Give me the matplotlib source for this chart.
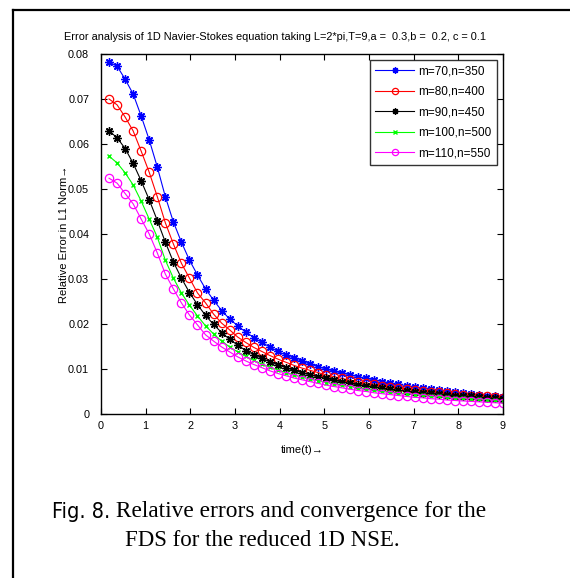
import numpy as np
import matplotlib
matplotlib.use("Agg")
import matplotlib.pyplot as plt
from matplotlib.lines import Line2D

# time levels at which the error was sampled
t = [0.18, 0.36, 0.54, 0.72, 0.90, 1.08, 1.26, 1.44, 1.62, 1.80,
     1.98, 2.16, 2.34, 2.52, 2.70, 2.88, 3.06, 3.24, 3.42, 3.60,
     3.78, 3.96, 4.14, 4.32, 4.50, 4.68, 4.86, 5.04, 5.22, 5.40,
     5.58, 5.76, 5.94, 6.12, 6.30, 6.48, 6.66, 6.84, 7.02, 7.20,
     7.38, 7.56, 7.74, 7.92, 8.10, 8.28, 8.46, 8.64, 8.82, 9.00]

err_70 = [.0782, .0773, .0744, .0711, .0662, .0609, .0549, .0483, .0427, .0382,
          .0342, .0309, .0278, .0253, .0230, .0211, .0196, .0182, .0170, .0159,
          .0149, .0139, .0131, .0124, .0117, .0111, .0105, .0100, .0095, .0091,
          .0087, .0083, .0079, .0076, .0072, .0069, .0066, .0063, .0060, .0058,
          .0056, .0053, .0051, .0049, .0047, .0045, .0043, .0041, .0040, .0038]
err_80 = [.0700, .0687, .0660, .0629, .0584, .0537, .0483, .0425, .0378, .0335,
          .0302, .0269, .0247, .0222, .0202, .0187, .0171, .0159, .0148, .0139,
          .0130, .0122, .0115, .0108, .0102, .0097, .0092, .0087, .0083, .0079,
          .0075, .0072, .0069, .0066, .0063, .0060, .0058, .0056, .0054, .0052,
          .0050, .0048, .0046, .0045, .0043, .0041, .0040, .0039, .0037, .0036]
err_90 = [.0629, .0614, .0590, .0557, .0518, .0476, .0430, .0382, .0338, .0302,
          .0270, .0243, .0219, .0199, .0181, .0166, .0153, .0141, .0132, .0124,
          .0116, .0109, .0103, .0097, .0092, .0087, .0083, .0079, .0075, .0071,
          .0068, .0065, .0062, .0060, .0057, .0055, .0053, .0051, .0049, .0047,
          .0046, .0044, .0043, .0041, .0040, .0039, .0037, .0036, .0035, .0034]
err_100 = [.0573, .0558, .0536, .0509, .0473, .0433, .0393, .0342, .0302, .0269,
           .0242, .0218, .0196, .0178, .0162, .0149, .0138, .0128, .0119, .0111,
           .0104, .0098, .0092, .0087, .0082, .0078, .0074, .0070, .0067, .0064,
           .0061, .0058, .0056, .0053, .0051, .0049, .0047, .0045, .0043, .0042,
           .0040, .0039, .0037, .0036, .0035, .0034, .0033, .0032, .0031, .0030]
err_110 = [.0524, .0513, .0490, .0467, .0433, .0400, .0358, .0311, .0278, .0247,
           .0220, .0198, .0176, .0162, .0149, .0138, .0127, .0118, .0110, .0103,
           .0096, .0090, .0085, .0080, .0076, .0072, .0068, .0064, .0061, .0058,
           .0055, .0052, .0050, .0047, .0045, .0043, .0041, .0039, .0037, .0036,
           .0034, .0033, .0031, .0030, .0029, .0028, .0027, .0026, .0025, .0024]

labels = ["m=70,n=350", "m=80,n=400", "m=90,n=450", "m=100,n=500", "m=110,n=550"]
x_ticks = [0, 1, 2, 3, 4, 5, 6, 7, 8, 9]
y_ticks = [0, 0.01, 0.02, 0.03, 0.04, 0.05, 0.06, 0.07, 0.08]
y_ticklabels = ["0", "0.01", "0.02", "0.03", "0.04", "0.05", "0.06", "0.07", "0.08"]

plt.rcParams["font.family"] = ["Liberation Sans", "DejaVu Sans"]

fig = plt.figure(figsize=(5.70, 5.78), dpi=100)
ax = fig.add_axes([101 / 570, 1 - 414 / 578, 402 / 570, 360 / 578])

star = (8, 2, 0)
ax.plot(t, err_70, color="blue", marker=star, markersize=6, linewidth=0.8, label=labels[0])
ax.plot(t, err_80, color="red", marker="o", markerfacecolor="none", markersize=6,
        markeredgewidth=0.9, linewidth=0.8, label=labels[1])
ax.plot(t, err_90, color="black", marker=star, markersize=6, linewidth=0.8, label=labels[2])
ax.plot(t, err_100, color="#00ff00", marker="x", markersize=3.5, linewidth=0.8, label=labels[3])
ax.plot(t, err_110, color="magenta", marker="o", markerfacecolor="none", markersize=6,
        markeredgewidth=0.9, linewidth=0.8, label=labels[4])

ax.set_xlim(0, 9)
ax.set_ylim(0, 0.08)
ax.set_xticks(x_ticks)
ax.set_yticks(y_ticks)
ax.set_yticklabels(y_ticklabels)
ax.tick_params(direction="in", top=True, right=True, length=4, width=0.8, labelsize=7.8)
ax.tick_params(axis="x", pad=5)
ax.tick_params(axis="y", pad=8.5)
for sp in ax.spines.values():
    sp.set_linewidth(1.0)

# title sits a little left of the axes centre
fig.text(275 / 570, 1 - 37 / 578,
         "Error analysis of 1D Navier-Stokes equation taking L=2*pi,T=9,a =  0.3,b =  0.2, c = 0.1",
         fontsize=7.9, ha="center", va="center")
ax.set_xlabel("time(t)\u2192", fontsize=8, labelpad=10)
ax.set_ylabel("Relative Error in L1 Norm\u2192", fontsize=8, labelpad=-1)

leg = ax.legend(loc="upper right", fontsize=8.5, frameon=True, fancybox=False,
                edgecolor="black", handlelength=3.3, borderpad=0.45,
                labelspacing=0.72, handletextpad=0.35, borderaxespad=0.5,
                markerscale=0.75, numpoints=1)
leg.get_frame().set_linewidth(1.0)

# frame around the figure panel
fig.add_artist(Line2D([13 / 570, 13 / 570], [0, 1 - 10 / 578], color="black", linewidth=1.6))
fig.add_artist(Line2D([13 / 570, 1], [1 - 10 / 578, 1 - 10 / 578], color="black", linewidth=1.6))

# caption
fig.text(52 / 570, 1 - 512 / 578, "Fig. 8.", fontsize=15.5, va="center", ha="left",
         family=["DejaVu Sans"], stretch="condensed")
fig.text(110 / 570, 1 - 512 / 578, " Relative errors and convergence for the", fontsize=16.8,
         va="center", ha="left", family=["Liberation Serif"])
fig.text(262 / 570, 1 - 540 / 578, "FDS for the reduced 1D NSE.", fontsize=16.5,
         va="center", ha="center", family=["Liberation Serif"])

fig.savefig("out.png", dpi=100)
